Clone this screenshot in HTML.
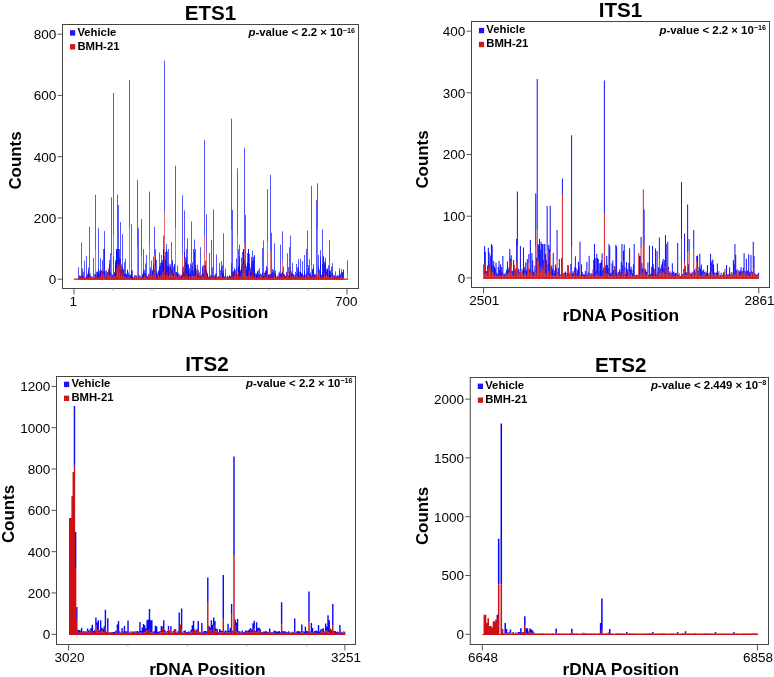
<!DOCTYPE html>
<html><head><meta charset="utf-8"><title>rDNA counts</title>
<style>
html,body{margin:0;padding:0;background:#fff;}
svg{display:block;will-change:transform;font-family:"Liberation Sans",Arial,Helvetica,sans-serif;fill:#000;}
</style></head><body>
<svg width="774" height="677" viewBox="0 0 774 677">
<rect width="774" height="677" fill="#fff"/>
<rect x="62.50" y="24.50" width="296.00" height="264.00" fill="#fff" stroke="#444" stroke-width="1"/>
<path d="M57.50 279.20H62.50" stroke="#555" stroke-width="1"/>
<text x="56.20" y="284.05" text-anchor="end" font-size="13.5">0</text>
<path d="M57.50 217.95H62.50" stroke="#555" stroke-width="1"/>
<text x="56.20" y="222.80" text-anchor="end" font-size="13.5">200</text>
<path d="M57.50 156.70H62.50" stroke="#555" stroke-width="1"/>
<text x="56.20" y="161.55" text-anchor="end" font-size="13.5">400</text>
<path d="M57.50 95.45H62.50" stroke="#555" stroke-width="1"/>
<text x="56.20" y="100.30" text-anchor="end" font-size="13.5">600</text>
<path d="M57.50 34.20H62.50" stroke="#555" stroke-width="1"/>
<text x="56.20" y="39.05" text-anchor="end" font-size="13.5">800</text>
<path d="M113.00 288.50V290.50" stroke="#999" stroke-width="0.8"/>
<path d="M152.00 288.50V290.50" stroke="#999" stroke-width="0.8"/>
<path d="M191.00 288.50V290.50" stroke="#999" stroke-width="0.8"/>
<path d="M230.00 288.50V290.50" stroke="#999" stroke-width="0.8"/>
<path d="M269.00 288.50V290.50" stroke="#999" stroke-width="0.8"/>
<path d="M308.00 288.50V290.50" stroke="#999" stroke-width="0.8"/>
<path d="M74.00 288.50V294.50" stroke="#555" stroke-width="1"/>
<text x="73.30" y="306.00" text-anchor="middle" font-size="13.5">1</text>
<path d="M347.00 288.50V294.50" stroke="#555" stroke-width="1"/>
<text x="346.30" y="306.00" text-anchor="middle" font-size="13.5">700</text>
<text x="210.50" y="19.60" text-anchor="middle" font-size="20.6" font-weight="bold">ETS1</text>
<text x="210.00" y="318.30" text-anchor="middle" font-size="17.3" font-weight="bold">rDNA Position</text>
<text transform="translate(21.00 160.50) rotate(-90)" text-anchor="middle" font-size="16.9" font-weight="bold">Counts</text>
<g stroke="#0000ff" stroke-width="1.00" fill="none" stroke-opacity="0.66">
<path d="M79.50 278.2V275.3M80.50 278.1V275.9M81.50 276.8V274.6M83.50 278.1V271.7M84.50 278.7V278.2M86.50 278.2V278.0M87.50 278.3V275.2M88.50 277.6V275.1M89.50 278.3V226.9M90.50 278.2V277.0M91.50 278.6V277.9M93.50 278.6V278.0M94.50 278.3V277.5M95.50 277.6V273.7M96.50 276.4V275.6M97.50 278.0V272.5M99.50 277.7V275.2M100.50 278.1V270.2M101.50 275.6V270.9M102.50 274.6V272.5M103.50 273.4V271.4M104.50 277.7V249.0M106.50 278.5V277.2M107.50 274.2V272.1M109.50 276.9V264.1M110.50 276.9V253.2M111.50 278.4V277.1M113.50 278.2V256.5M114.50 275.7V273.0M115.50 277.4V262.4M116.50 268.2V249.0M117.50 264.0V249.0M118.50 264.0V260.1M120.50 276.9V266.6M121.50 273.7V270.0M122.50 277.2V234.2M123.50 278.2V268.9M124.50 276.4V274.6M125.50 277.6V258.8M127.50 273.4V269.4M128.50 277.1V275.0M129.50 278.7V276.9M130.50 278.6V275.2M131.50 278.3V224.0M132.50 278.3V277.4M134.50 276.2V275.3M135.50 278.4V277.4M136.50 276.4V275.7M137.50 247.2V180.0M140.50 277.8V277.1M141.50 278.6V277.6M142.50 278.4V275.8M143.50 278.5V270.2M144.50 276.9V273.2M145.50 277.2V273.3M147.50 278.0V276.0M149.50 247.2V191.6M150.50 274.3V272.8M151.50 276.5V273.9M152.50 275.4V271.2M154.50 256.0V226.9M155.50 267.2V258.4M156.50 278.0V271.3M157.50 276.8V276.0M158.50 274.4V270.2M159.50 277.4V272.6M161.50 277.9V273.6M162.50 275.1V262.4M163.50 275.3V249.0M164.50 212.7V60.6M165.50 276.6V251.9M166.50 271.9V249.0M168.50 277.5V267.8M169.50 276.6V266.8M170.50 277.0V268.9M171.50 275.2V269.7M172.50 272.8V262.2M173.50 277.0V266.8M175.50 274.0V271.8M176.50 275.1V272.0M177.50 277.4V274.2M178.50 278.6V272.8M179.50 277.8V274.3M181.50 278.4V276.2M182.50 278.3V267.8M183.50 277.1V266.4M184.50 258.8V210.4M185.50 277.3V257.4M186.50 273.4V249.0M188.50 276.2V265.3M189.50 276.0V268.2M190.50 278.3V273.3M191.50 262.7V221.4M192.50 276.2V262.3M193.50 265.3V249.0M195.50 277.2V249.0M197.50 278.4V275.0M198.50 277.2V269.9M199.50 277.1V272.4M200.50 278.4V275.2M202.50 276.3V267.3M203.50 278.2V274.3M204.50 277.8V264.8M205.50 273.5V265.7M206.50 276.3V269.2M207.50 277.2V273.8M209.50 278.4V253.0M210.50 278.7V276.3M211.50 277.0V239.8M212.50 277.5V267.3M213.50 278.0V276.0M215.50 278.5V275.4M216.50 275.0V273.4M218.50 277.3V276.6M219.50 277.8V262.7M220.50 276.4V270.1M222.50 276.3V273.0M223.50 277.9V271.2M224.50 278.4V276.5M225.50 278.5V268.5M226.50 278.6V277.2M227.50 278.3V276.0M229.50 278.1V276.4M230.50 278.1V276.2M231.50 276.7V263.0M232.50 272.8V210.0M233.50 277.8V270.8M234.50 274.2V267.7M236.50 276.4V272.8M237.50 235.6V168.3M238.50 272.3V266.8M239.50 276.6V244.7M240.50 277.4V271.8M241.50 275.9V257.5M243.50 274.2V250.1M244.50 274.5V259.5M245.50 267.8V263.4M246.50 277.5V266.2M247.50 276.5V253.0M248.50 277.6V249.0M250.50 278.1V272.2M251.50 277.8V262.6M252.50 276.2V250.9M253.50 277.2V256.9M254.50 278.2V255.0M256.50 278.6V274.5M257.50 277.9V275.3M258.50 276.7V270.3M259.50 278.5V268.2M261.50 276.0V275.1M263.50 277.5V276.0M264.50 277.8V275.8M265.50 276.8V270.9M266.50 274.8V266.0M267.50 278.5V267.9M268.50 278.4V275.1M270.50 278.1V274.4M271.50 278.1V232.7M272.50 277.4V268.9M273.50 277.8V271.5M274.50 277.9V243.3M275.50 278.0V273.5M277.50 277.9V277.6M278.50 278.7V276.2M279.50 278.1V271.6M280.50 277.8V274.1M281.50 275.9V272.8M282.50 261.7V231.3M284.50 275.9V275.1M285.50 278.2V276.2M286.50 278.2V272.6M287.50 274.2V273.9M288.50 273.6V267.1M289.50 277.7V271.9M291.50 277.8V271.3M292.50 276.0V262.8M293.50 278.1V274.0M294.50 278.2V274.9M295.50 278.4V275.7M297.50 278.1V267.4M298.50 277.4V267.1M299.50 277.6V276.2M300.50 276.0V258.6M301.50 277.8V272.9M302.50 278.0V261.1M304.50 277.7V272.7M305.50 276.9V275.1M306.50 275.3V248.8M307.50 275.7V230.7M308.50 275.6V268.0M309.50 278.1V259.2M311.50 278.2V275.3M312.50 277.0V268.8M313.50 274.6V264.1M314.50 277.1V275.1M315.50 277.6V274.2M316.50 277.1V275.0M319.50 275.9V269.5M320.50 277.9V263.1M321.50 277.6V276.3M322.50 278.1V273.9M323.50 277.5V257.2M325.50 275.8V264.4M326.50 274.4V271.8M327.50 277.0V270.8M328.50 276.4V275.2M329.50 277.0V240.0M330.50 277.4V274.6M332.50 276.4V272.6M333.50 277.7V274.9M334.50 277.9V275.3M338.50 277.6V275.5M339.50 278.5V268.1M340.50 277.8V273.8M341.50 274.6V269.3M342.50 277.2V272.5M347.50 274.3V260.2"/>
<path d="M78.50 277.1V267.2M79.50 277.7V276.4M80.50 278.1V276.3M81.50 277.9V275.9M82.50 277.8V276.4M84.50 278.2V260.8M85.50 278.8V277.2M86.50 278.1V255.9M87.50 277.9V273.7M88.50 277.7V270.5M90.50 278.4V276.3M91.50 277.1V276.0M92.50 278.4V277.5M93.50 278.2V277.9M94.50 277.9V274.2M95.50 250.1V194.9M97.50 278.3V271.7M98.50 278.1V227.8M99.50 276.8V271.0M100.50 276.0V270.1M101.50 271.9V270.6M102.50 275.4V269.2M104.50 276.5V231.1M105.50 276.2V271.1M106.50 278.2V275.9M107.50 274.9V273.5M108.50 276.3V270.1M109.50 276.5V259.9M111.50 277.6V273.5M112.50 277.2V274.5M113.50 278.4V277.0M114.50 276.6V272.0M115.50 277.1V260.1M116.50 276.3V251.9M118.50 266.2V205.0M119.50 272.9V249.0M120.50 264.0V222.0M121.50 277.3V264.2M122.50 276.7V270.1M124.50 276.9V262.1M125.50 277.9V275.2M126.50 277.8V273.5M127.50 277.8V270.0M128.50 277.6V272.6M129.50 227.8V80.0M131.50 278.2V270.3M132.50 278.5V270.4M133.50 277.5V277.2M134.50 277.7V276.9M135.50 277.1V275.1M136.50 277.8V277.4M138.50 278.1V277.4M139.50 277.0V275.1M140.50 277.4V275.9M141.50 278.3V277.5M142.50 277.8V273.9M143.50 277.0V273.5M145.50 277.8V263.5M146.50 277.4V255.0M147.50 278.7V277.9M148.50 277.6V276.1M149.50 276.0V274.3M150.50 276.5V270.2M152.50 278.2V269.8M153.50 277.4V264.4M154.50 276.9V271.1M155.50 273.1V249.0M156.50 278.2V273.5M157.50 278.0V272.8M159.50 277.5V252.6M160.50 277.6V265.6M161.50 277.7V261.5M162.50 272.5V260.0M163.50 270.8V235.6M165.50 277.2V272.5M166.50 273.9V266.5M167.50 277.0V251.5M168.50 275.2V265.5M169.50 264.0V263.7M170.50 276.3V264.4M172.50 276.5V259.9M173.50 276.6V273.8M174.50 273.5V264.2M175.50 228.2V165.8M176.50 277.2V272.2M177.50 278.5V265.6M179.50 278.5V277.4M180.50 277.9V276.6M181.50 278.4V276.8M182.50 254.0V195.3M183.50 276.9V272.2M184.50 277.9V251.7M186.50 275.0V264.9M187.50 277.8V238.5M188.50 277.5V264.2M189.50 277.0V273.9M190.50 277.8V263.3M191.50 276.4V269.5M193.50 276.9V270.9M194.50 276.8V239.5M195.50 276.2V264.9M196.50 274.7V270.5M197.50 278.3V264.7M198.50 276.3V275.5M200.50 278.4V276.4M201.50 277.7V276.2M202.50 277.4V273.7M203.50 275.9V265.3M204.50 236.5V139.9M206.50 253.0V214.3M207.50 278.4V272.8M208.50 278.4V276.7M209.50 278.6V277.5M211.50 277.1V276.0M214.50 278.2V276.5M215.50 277.9V273.5M217.50 278.5V276.6M218.50 277.8V277.5M220.50 276.2V275.5M221.50 274.5V267.3M222.50 278.0V265.1M223.50 277.5V233.3M224.50 277.3V276.4M225.50 277.2V275.8M227.50 278.0V276.4M228.50 278.2V276.7M229.50 277.3V275.0M230.50 278.1V276.1M231.50 230.7V118.7M232.50 277.1V273.1M234.50 276.1V273.9M235.50 273.6V273.5M236.50 277.7V268.3M237.50 277.2V274.5M238.50 277.6V266.9M239.50 277.5V256.4M241.50 277.8V268.5M242.50 277.6V263.2M243.50 264.0V249.0M244.50 243.3V147.8M245.50 269.3V266.3M247.50 276.7V262.3M248.50 275.2V249.0M249.50 270.3V263.6M250.50 278.0V267.5M251.50 275.8V256.9M252.50 270.6V268.3M254.50 275.9V269.4M255.50 278.2V275.4M256.50 278.4V273.1M257.50 277.0V270.9M258.50 277.7V274.4M259.50 277.4V274.9M261.50 276.9V276.2M262.50 276.6V248.2M263.50 278.4V276.4M264.50 278.7V272.7M265.50 277.8V271.0M266.50 278.0V268.5M268.50 276.8V274.6M269.50 278.6V276.2M270.50 251.1V174.9M271.50 278.7V273.2M272.50 277.3V275.4M273.50 273.4V272.4M275.50 277.3V275.2M276.50 278.5V277.7M277.50 278.4V275.6M278.50 274.8V273.1M279.50 275.5V274.6M281.50 277.0V275.1M282.50 276.7V272.1M283.50 277.6V266.5M284.50 277.9V274.2M285.50 277.8V275.7M286.50 273.8V271.8M288.50 277.9V275.9M289.50 277.5V247.2M290.50 278.4V235.6M291.50 277.1V275.4M292.50 278.5V273.5M293.50 277.9V276.2M295.50 277.7V276.9M296.50 278.2V264.0M298.50 277.8V270.7M299.50 278.2V271.6M300.50 277.8V272.3M302.50 277.8V274.2M303.50 278.5V276.6M304.50 278.1V255.0M305.50 275.9V274.7M306.50 277.0V276.9M307.50 272.7V271.9M309.50 275.3V274.0M310.50 277.7V272.5M311.50 278.2V276.1M312.50 277.8V270.0M313.50 278.0V270.3M314.50 276.1V275.5M316.50 273.8V273.6M317.50 229.2V183.3M318.50 272.9V266.4M319.50 271.2V271.0M320.50 277.8V250.1M322.50 278.0V263.8M323.50 276.9V274.3M324.50 276.9V264.5M325.50 277.4V262.8M326.50 275.6V268.9M327.50 275.9V268.2M329.50 278.4V272.4M330.50 276.8V272.4M331.50 277.2V267.0M332.50 276.3V263.1M333.50 277.3V276.8M334.50 278.4V275.8M336.50 277.0V275.8M337.50 278.4V275.0M338.50 277.4V276.3M339.50 277.1V276.8M340.50 277.4V275.6M341.50 277.6V271.9M343.50 277.9V269.3"/>
<path d="M78.50 277.8V276.9M79.50 277.9V277.4M81.50 276.3V242.4M82.50 278.0V268.3M83.50 278.4V276.9M84.50 277.9V277.9M85.50 278.7V278.4M86.50 278.6V276.6M88.50 276.9V267.5M89.50 277.5V273.9M90.50 274.2V273.4M91.50 278.7V277.9M92.50 277.9V276.5M93.50 276.8V257.9M95.50 275.8V274.6M96.50 276.7V271.7M97.50 278.1V275.1M98.50 277.3V269.1M99.50 276.8V274.4M100.50 277.2V258.2M102.50 269.6V260.1M103.50 277.1V249.0M106.50 277.1V269.9M107.50 277.1V272.6M109.50 275.2V271.1M110.50 274.7V272.4M111.50 255.0V197.2M112.50 277.9V275.2M113.50 235.6V93.0M115.50 276.9V265.9M116.50 268.7V249.0M117.50 271.2V194.5M118.50 272.7V249.0M119.50 265.2V257.9M120.50 276.5V259.1M122.50 270.2V266.3M123.50 275.2V269.8M124.50 277.3V274.0M125.50 276.3V274.5M126.50 278.3V274.0M127.50 278.1V275.2M129.50 277.7V274.6M130.50 278.5V274.5M131.50 278.2V275.5M132.50 278.6V276.3M133.50 278.7V277.7M134.50 277.7V275.5M136.50 278.0V275.7M137.50 278.6V277.8M138.50 278.6V228.2M139.50 278.7V277.6M140.50 278.4V276.9M141.50 256.0V219.1M143.50 277.7V249.1M144.50 275.5V269.9M145.50 277.8V275.7M146.50 278.1V276.5M147.50 278.6V277.2M148.50 278.4V274.0M150.50 277.9V267.5M151.50 273.9V260.5M152.50 274.7V271.6M153.50 271.9V256.6M154.50 272.6V268.6M156.50 278.0V260.0M157.50 276.7V275.9M158.50 276.1V271.1M159.50 276.4V266.7M160.50 275.4V262.8M161.50 274.5V255.0M163.50 276.9V249.0M164.50 274.4V256.1M165.50 276.1V259.6M166.50 277.4V243.9M167.50 274.4V265.8M168.50 277.1V249.0M170.50 269.7V267.1M171.50 274.4V242.0M172.50 275.3V272.3M173.50 275.5V273.4M174.50 276.2V264.6M175.50 278.1V274.5M177.50 277.2V273.2M179.50 277.7V277.3M180.50 276.9V275.3M181.50 278.5V274.5M182.50 277.4V275.0M184.50 277.1V270.6M185.50 276.5V261.3M186.50 274.6V258.3M187.50 278.0V263.6M188.50 278.4V271.0M190.50 275.2V270.8M191.50 277.3V264.6M192.50 276.3V265.8M193.50 276.8V270.3M194.50 276.9V252.4M195.50 275.4V265.1M197.50 276.8V274.3M199.50 277.3V276.0M200.50 274.7V247.2M201.50 276.8V274.5M202.50 275.7V266.1M204.50 276.9V273.4M205.50 278.3V260.8M206.50 278.0V271.1M207.50 278.0V274.6M208.50 278.4V276.9M209.50 278.7V277.2M211.50 278.4V276.0M212.50 277.8V275.0M213.50 275.9V209.4M214.50 276.3V275.2M215.50 278.2V276.8M216.50 278.0V254.4M218.50 278.0V276.3M219.50 278.4V277.3M220.50 278.1V276.7M221.50 277.4V261.1M222.50 277.4V274.2M223.50 278.1V275.9M225.50 278.6V277.1M226.50 278.5V278.2M227.50 278.7V277.3M228.50 277.3V277.2M229.50 278.3V276.6M231.50 278.2V265.6M232.50 277.5V271.8M233.50 277.8V271.8M234.50 277.8V270.0M235.50 276.7V269.9M236.50 271.1V258.6M238.50 276.1V249.0M239.50 277.7V263.1M240.50 277.8V269.7M241.50 273.2V266.6M242.50 266.8V251.9M243.50 271.5V249.0M245.50 273.4V214.8M246.50 276.3V269.3M247.50 277.7V263.2M248.50 271.2V249.0M249.50 277.0V254.0M250.50 276.2V271.0M252.50 276.9V260.5M253.50 277.6V260.3M254.50 278.0V255.8M255.50 276.6V273.2M256.50 277.6V275.2M257.50 277.9V271.5M259.50 277.8V275.4M260.50 276.4V273.3M261.50 277.2V274.2M262.50 278.6V272.4M263.50 278.2V240.4M266.50 277.6V273.7M267.50 242.4V189.1M268.50 278.3V274.7M269.50 278.1V274.1M270.50 278.6V274.0M272.50 277.0V272.4M273.50 272.8V269.8M274.50 275.5V273.2M275.50 278.5V270.6M277.50 277.8V277.2M279.50 277.0V274.6M280.50 277.6V244.7M281.50 277.8V273.8M282.50 277.8V271.4M283.50 276.6V274.0M284.50 278.3V276.2M286.50 276.5V275.5M287.50 277.5V253.2M288.50 278.3V275.8M289.50 278.2V276.8M291.50 277.3V273.2M294.50 277.4V277.3M295.50 276.5V272.0M296.50 275.1V274.0M297.50 277.9V274.0M298.50 276.6V259.2M300.50 277.3V271.9M301.50 277.9V273.8M302.50 275.6V274.6M303.50 276.9V274.9M304.50 277.5V270.3M306.50 278.3V273.5M307.50 278.4V273.3M308.50 275.9V265.0M309.50 277.9V274.8M310.50 277.8V274.5M311.50 265.6V185.8M313.50 277.3V268.1M314.50 278.3V274.3M315.50 276.0V274.9M316.50 275.4V200.1M317.50 276.7V275.3M318.50 275.1V254.8M320.50 277.4V256.6M321.50 278.7V274.6M322.50 275.9V229.2M323.50 277.0V255.9M324.50 273.5V261.3M325.50 276.9V257.9M327.50 278.4V269.3M328.50 278.0V265.2M329.50 277.2V270.8M330.50 278.2V270.4M332.50 278.3V276.8M334.50 278.2V277.4M335.50 278.0V271.3M336.50 277.0V276.6M337.50 278.6V276.9M338.50 277.7V277.3M339.50 278.0V270.7M341.50 275.1V274.4M342.50 277.9V272.2M343.50 277.8V269.9"/>
</g><g stroke="#cc1015" stroke-width="1.00" fill="none" stroke-opacity="0.60">
<path d="M79.50 279.5V278.2M80.50 279.5V278.1M81.50 279.5V276.8M82.50 279.5V274.7M83.50 279.5V278.1M84.50 279.5V278.7M86.50 279.5V278.2M87.50 279.5V278.3M88.50 279.5V277.6M89.50 279.5V278.3M90.50 279.5V278.2M91.50 279.5V278.6M93.50 279.5V278.6M94.50 279.5V278.3M95.50 279.5V277.6M96.50 279.5V276.4M97.50 279.5V278.0M99.50 279.5V277.7M100.50 279.5V278.1M101.50 279.5V275.6M102.50 279.5V274.6M103.50 279.5V273.4M104.50 279.5V277.7M106.50 279.5V278.5M107.50 279.5V274.2M108.50 279.5V268.0M109.50 279.5V276.9M110.50 279.5V276.9M111.50 279.5V278.4M113.50 279.5V278.2M114.50 279.5V275.7M115.50 279.5V277.4M116.50 279.5V268.2M117.50 279.5V264.0M118.50 279.5V264.0M120.50 279.5V276.9M121.50 279.5V273.7M122.50 279.5V277.2M123.50 279.5V278.2M124.50 279.5V276.4M125.50 279.5V277.6M127.50 279.5V273.4M128.50 279.5V277.1M129.50 279.5V278.7M130.50 279.5V278.6M131.50 279.5V278.3M132.50 279.5V278.3M134.50 279.5V276.2M135.50 279.5V278.4M136.50 279.5V276.4M137.50 279.5V247.2M138.50 279.5V274.2M140.50 279.5V277.8M141.50 279.5V278.6M142.50 279.5V278.4M143.50 279.5V278.5M144.50 279.5V276.9M145.50 279.5V277.2M147.50 279.5V278.0M148.50 279.5V276.1M149.50 279.5V247.2M150.50 279.5V274.3M151.50 279.5V276.5M152.50 279.5V275.4M154.50 279.5V256.0M155.50 279.5V267.2M156.50 279.5V278.0M157.50 279.5V276.8M158.50 279.5V274.4M159.50 279.5V277.4M161.50 279.5V277.9M162.50 279.5V275.1M163.50 279.5V275.3M164.50 279.5V212.7M165.50 279.5V276.6M166.50 279.5V271.9M168.50 279.5V277.5M169.50 279.5V276.6M170.50 279.5V277.0M171.50 279.5V275.2M172.50 279.5V272.8M173.50 279.5V277.0M175.50 279.5V274.0M176.50 279.5V275.1M177.50 279.5V277.4M178.50 279.5V278.6M179.50 279.5V277.8M181.50 279.5V278.4M182.50 279.5V278.3M183.50 279.5V277.1M184.50 279.5V258.8M185.50 279.5V277.3M186.50 279.5V273.4M188.50 279.5V276.2M189.50 279.5V276.0M190.50 279.5V278.3M191.50 279.5V262.7M192.50 279.5V276.2M193.50 279.5V265.3M195.50 279.5V277.2M196.50 279.5V268.4M197.50 279.5V278.4M198.50 279.5V277.2M199.50 279.5V277.1M200.50 279.5V278.4M202.50 279.5V276.3M203.50 279.5V278.2M204.50 279.5V277.8M205.50 279.5V273.5M206.50 279.5V276.3M207.50 279.5V277.2M209.50 279.5V278.4M210.50 279.5V278.7M211.50 279.5V277.0M212.50 279.5V277.5M213.50 279.5V278.0M215.50 279.5V278.5M216.50 279.5V275.0M217.50 279.5V276.8M218.50 279.5V277.3M219.50 279.5V277.8M220.50 279.5V276.4M222.50 279.5V276.3M223.50 279.5V277.9M224.50 279.5V278.4M225.50 279.5V278.5M226.50 279.5V278.6M227.50 279.5V278.3M229.50 279.5V278.1M230.50 279.5V278.1M231.50 279.5V276.7M232.50 279.5V272.8M233.50 279.5V277.8M234.50 279.5V274.2M236.50 279.5V276.4M237.50 279.5V235.6M238.50 279.5V272.3M239.50 279.5V276.6M240.50 279.5V277.4M241.50 279.5V275.9M243.50 279.5V274.2M244.50 279.5V274.5M245.50 279.5V267.8M246.50 279.5V277.5M247.50 279.5V276.5M248.50 279.5V277.6M250.50 279.5V278.1M251.50 279.5V277.8M252.50 279.5V276.2M253.50 279.5V277.2M254.50 279.5V278.2M256.50 279.5V278.6M257.50 279.5V277.9M258.50 279.5V276.7M259.50 279.5V278.5M260.50 279.5V275.6M261.50 279.5V276.0M263.50 279.5V277.5M264.50 279.5V277.8M265.50 279.5V276.8M266.50 279.5V274.8M267.50 279.5V278.5M268.50 279.5V278.4M270.50 279.5V278.1M271.50 279.5V278.1M272.50 279.5V277.4M273.50 279.5V277.8M274.50 279.5V277.9M275.50 279.5V278.0M277.50 279.5V277.9M278.50 279.5V278.7M279.50 279.5V278.1M280.50 279.5V277.8M281.50 279.5V275.9M282.50 279.5V261.7M284.50 279.5V275.9M285.50 279.5V278.2M286.50 279.5V278.2M287.50 279.5V274.2M288.50 279.5V273.6M289.50 279.5V277.7M291.50 279.5V277.8M292.50 279.5V276.0M293.50 279.5V278.1M294.50 279.5V278.2M295.50 279.5V278.4M297.50 279.5V278.1M298.50 279.5V277.4M299.50 279.5V277.6M300.50 279.5V276.0M301.50 279.5V277.8M302.50 279.5V278.0M304.50 279.5V277.7M305.50 279.5V276.9M306.50 279.5V275.3M307.50 279.5V275.7M308.50 279.5V275.6M309.50 279.5V278.1M311.50 279.5V278.2M312.50 279.5V277.0M313.50 279.5V274.6M314.50 279.5V277.1M315.50 279.5V277.6M316.50 279.5V277.1M318.50 279.5V273.1M319.50 279.5V275.9M320.50 279.5V277.9M321.50 279.5V277.6M322.50 279.5V278.1M323.50 279.5V277.5M325.50 279.5V275.8M326.50 279.5V274.4M327.50 279.5V277.0M328.50 279.5V276.4M329.50 279.5V277.0M330.50 279.5V277.4M332.50 279.5V276.4M333.50 279.5V277.7M334.50 279.5V277.9M335.50 279.5V276.6M336.50 279.5V276.3M338.50 279.5V277.6M339.50 279.5V278.5M340.50 279.5V277.8M341.50 279.5V274.6M342.50 279.5V277.2M347.50 279.5V274.3"/>
<path d="M78.50 279.5V277.1M79.50 279.5V277.7M80.50 279.5V278.1M81.50 279.5V277.9M82.50 279.5V277.8M84.50 279.5V278.2M85.50 279.5V278.8M86.50 279.5V278.1M87.50 279.5V277.9M88.50 279.5V277.7M90.50 279.5V278.4M91.50 279.5V277.1M92.50 279.5V278.4M93.50 279.5V278.2M94.50 279.5V277.9M95.50 279.5V250.1M97.50 279.5V278.3M98.50 279.5V278.1M99.50 279.5V276.8M100.50 279.5V276.0M101.50 279.5V271.9M102.50 279.5V275.4M104.50 279.5V276.5M105.50 279.5V276.2M106.50 279.5V278.2M107.50 279.5V274.9M108.50 279.5V276.3M109.50 279.5V276.5M111.50 279.5V277.6M112.50 279.5V277.2M113.50 279.5V278.4M114.50 279.5V276.6M115.50 279.5V277.1M116.50 279.5V276.3M118.50 279.5V266.2M119.50 279.5V272.9M120.50 279.5V264.0M121.50 279.5V277.3M122.50 279.5V276.7M124.50 279.5V276.9M125.50 279.5V277.9M126.50 279.5V277.8M127.50 279.5V277.8M128.50 279.5V277.6M129.50 279.5V227.8M131.50 279.5V278.2M132.50 279.5V278.5M133.50 279.5V277.5M134.50 279.5V277.7M135.50 279.5V277.1M136.50 279.5V277.8M138.50 279.5V278.1M139.50 279.5V277.0M140.50 279.5V277.4M141.50 279.5V278.3M142.50 279.5V277.8M143.50 279.5V277.0M145.50 279.5V277.8M146.50 279.5V277.4M147.50 279.5V278.7M148.50 279.5V277.6M149.50 279.5V276.0M150.50 279.5V276.5M152.50 279.5V278.2M153.50 279.5V277.4M154.50 279.5V276.9M155.50 279.5V273.1M156.50 279.5V278.2M157.50 279.5V278.0M159.50 279.5V277.5M160.50 279.5V277.6M161.50 279.5V277.7M162.50 279.5V272.5M163.50 279.5V270.8M165.50 279.5V277.2M166.50 279.5V273.9M167.50 279.5V277.0M168.50 279.5V275.2M169.50 279.5V264.0M170.50 279.5V276.3M172.50 279.5V276.5M173.50 279.5V276.6M174.50 279.5V273.5M175.50 279.5V228.2M176.50 279.5V277.2M177.50 279.5V278.5M179.50 279.5V278.5M180.50 279.5V277.9M181.50 279.5V278.4M182.50 279.5V254.0M183.50 279.5V276.9M184.50 279.5V277.9M186.50 279.5V275.0M187.50 279.5V277.8M188.50 279.5V277.5M189.50 279.5V277.0M190.50 279.5V277.8M191.50 279.5V276.4M193.50 279.5V276.9M194.50 279.5V276.8M195.50 279.5V276.2M196.50 279.5V274.7M197.50 279.5V278.3M198.50 279.5V276.3M200.50 279.5V278.4M201.50 279.5V277.7M202.50 279.5V277.4M203.50 279.5V275.9M204.50 279.5V236.5M206.50 279.5V253.0M207.50 279.5V278.4M208.50 279.5V278.4M209.50 279.5V278.6M210.50 279.5V274.6M211.50 279.5V277.1M213.50 279.5V275.8M214.50 279.5V278.2M215.50 279.5V277.9M216.50 279.5V275.7M217.50 279.5V278.5M218.50 279.5V277.8M220.50 279.5V276.2M221.50 279.5V274.5M222.50 279.5V278.0M223.50 279.5V277.5M224.50 279.5V277.3M225.50 279.5V277.2M227.50 279.5V278.0M228.50 279.5V278.2M229.50 279.5V277.3M230.50 279.5V278.1M231.50 279.5V230.7M232.50 279.5V277.1M234.50 279.5V276.1M235.50 279.5V273.6M236.50 279.5V277.7M237.50 279.5V277.2M238.50 279.5V277.6M239.50 279.5V277.5M241.50 279.5V277.8M242.50 279.5V277.6M243.50 279.5V264.0M244.50 279.5V243.3M245.50 279.5V269.3M247.50 279.5V276.7M248.50 279.5V275.2M249.50 279.5V270.3M250.50 279.5V278.0M251.50 279.5V275.8M252.50 279.5V270.6M254.50 279.5V275.9M255.50 279.5V278.2M256.50 279.5V278.4M257.50 279.5V277.0M258.50 279.5V277.7M259.50 279.5V277.4M261.50 279.5V276.9M262.50 279.5V276.6M263.50 279.5V278.4M264.50 279.5V278.7M265.50 279.5V277.8M266.50 279.5V278.0M268.50 279.5V276.8M269.50 279.5V278.6M270.50 279.5V251.1M271.50 279.5V278.7M272.50 279.5V277.3M273.50 279.5V273.4M275.50 279.5V277.3M276.50 279.5V278.5M277.50 279.5V278.4M278.50 279.5V274.8M279.50 279.5V275.5M281.50 279.5V277.0M282.50 279.5V276.7M283.50 279.5V277.6M284.50 279.5V277.9M285.50 279.5V277.8M286.50 279.5V273.8M288.50 279.5V277.9M289.50 279.5V277.5M290.50 279.5V278.4M291.50 279.5V277.1M292.50 279.5V278.5M293.50 279.5V277.9M295.50 279.5V277.7M296.50 279.5V278.2M297.50 279.5V268.5M298.50 279.5V277.8M299.50 279.5V278.2M300.50 279.5V277.8M302.50 279.5V277.8M303.50 279.5V278.5M304.50 279.5V278.1M305.50 279.5V275.9M306.50 279.5V277.0M307.50 279.5V272.7M309.50 279.5V275.3M310.50 279.5V277.7M311.50 279.5V278.2M312.50 279.5V277.8M313.50 279.5V278.0M314.50 279.5V276.1M316.50 279.5V273.8M317.50 279.5V229.2M318.50 279.5V272.9M319.50 279.5V271.2M320.50 279.5V277.8M322.50 279.5V278.0M323.50 279.5V276.9M324.50 279.5V276.9M325.50 279.5V277.4M326.50 279.5V275.6M327.50 279.5V275.9M329.50 279.5V278.4M330.50 279.5V276.8M331.50 279.5V277.2M332.50 279.5V276.3M333.50 279.5V277.3M334.50 279.5V278.4M336.50 279.5V277.0M337.50 279.5V278.4M338.50 279.5V277.4M339.50 279.5V277.1M340.50 279.5V277.4M341.50 279.5V277.6M343.50 279.5V277.9"/>
<path d="M78.50 279.5V277.8M79.50 279.5V277.9M81.50 279.5V276.3M82.50 279.5V278.0M83.50 279.5V278.4M84.50 279.5V277.9M85.50 279.5V278.7M86.50 279.5V278.6M88.50 279.5V276.9M89.50 279.5V277.5M90.50 279.5V274.2M91.50 279.5V278.7M92.50 279.5V277.9M93.50 279.5V276.8M95.50 279.5V275.8M96.50 279.5V276.7M97.50 279.5V278.1M98.50 279.5V277.3M99.50 279.5V276.8M100.50 279.5V277.2M102.50 279.5V269.6M103.50 279.5V277.1M104.50 279.5V276.7M105.50 279.5V273.7M106.50 279.5V277.1M107.50 279.5V277.1M109.50 279.5V275.2M110.50 279.5V274.7M111.50 279.5V255.0M112.50 279.5V277.9M113.50 279.5V235.6M115.50 279.5V276.9M116.50 279.5V268.7M117.50 279.5V271.2M118.50 279.5V272.7M119.50 279.5V265.2M120.50 279.5V276.5M122.50 279.5V270.2M123.50 279.5V275.2M124.50 279.5V277.3M125.50 279.5V276.3M126.50 279.5V278.3M127.50 279.5V278.1M129.50 279.5V277.7M130.50 279.5V278.5M131.50 279.5V278.2M132.50 279.5V278.6M133.50 279.5V278.7M134.50 279.5V277.7M136.50 279.5V278.0M137.50 279.5V278.6M138.50 279.5V278.6M139.50 279.5V278.7M140.50 279.5V278.4M141.50 279.5V256.0M143.50 279.5V277.7M144.50 279.5V275.5M145.50 279.5V277.8M146.50 279.5V278.1M147.50 279.5V278.6M148.50 279.5V278.4M150.50 279.5V277.9M151.50 279.5V273.9M152.50 279.5V274.7M153.50 279.5V271.9M154.50 279.5V272.6M156.50 279.5V278.0M157.50 279.5V276.7M158.50 279.5V276.1M159.50 279.5V276.4M160.50 279.5V275.4M161.50 279.5V274.5M163.50 279.5V276.9M164.50 279.5V274.4M165.50 279.5V276.1M166.50 279.5V277.4M167.50 279.5V274.4M168.50 279.5V277.1M170.50 279.5V269.7M171.50 279.5V274.4M172.50 279.5V275.3M173.50 279.5V275.5M174.50 279.5V276.2M175.50 279.5V278.1M177.50 279.5V277.2M178.50 279.5V274.7M179.50 279.5V277.7M180.50 279.5V276.9M181.50 279.5V278.5M182.50 279.5V277.4M184.50 279.5V277.1M185.50 279.5V276.5M186.50 279.5V274.6M187.50 279.5V278.0M188.50 279.5V278.4M190.50 279.5V275.2M191.50 279.5V277.3M192.50 279.5V276.3M193.50 279.5V276.8M194.50 279.5V276.9M195.50 279.5V275.4M197.50 279.5V276.8M198.50 279.5V272.5M199.50 279.5V277.3M200.50 279.5V274.7M201.50 279.5V276.8M202.50 279.5V275.7M204.50 279.5V276.9M205.50 279.5V278.3M206.50 279.5V278.0M207.50 279.5V278.0M208.50 279.5V278.4M209.50 279.5V278.7M211.50 279.5V278.4M212.50 279.5V277.8M213.50 279.5V275.9M214.50 279.5V276.3M215.50 279.5V278.2M216.50 279.5V278.0M218.50 279.5V278.0M219.50 279.5V278.4M220.50 279.5V278.1M221.50 279.5V277.4M222.50 279.5V277.4M223.50 279.5V278.1M225.50 279.5V278.6M226.50 279.5V278.5M227.50 279.5V278.7M228.50 279.5V277.3M229.50 279.5V278.3M231.50 279.5V278.2M232.50 279.5V277.5M233.50 279.5V277.8M234.50 279.5V277.8M235.50 279.5V276.7M236.50 279.5V271.1M238.50 279.5V276.1M239.50 279.5V277.7M240.50 279.5V277.8M241.50 279.5V273.2M242.50 279.5V266.8M243.50 279.5V271.5M245.50 279.5V273.4M246.50 279.5V276.3M247.50 279.5V277.7M248.50 279.5V271.2M249.50 279.5V277.0M250.50 279.5V276.2M252.50 279.5V276.9M253.50 279.5V277.6M254.50 279.5V278.0M255.50 279.5V276.6M256.50 279.5V277.6M257.50 279.5V277.9M259.50 279.5V277.8M260.50 279.5V276.4M261.50 279.5V277.2M262.50 279.5V278.6M263.50 279.5V278.2M264.50 279.5V272.9M266.50 279.5V277.6M267.50 279.5V242.4M268.50 279.5V278.3M269.50 279.5V278.1M270.50 279.5V278.6M272.50 279.5V277.0M273.50 279.5V272.8M274.50 279.5V275.5M275.50 279.5V278.5M276.50 279.5V276.2M277.50 279.5V277.8M279.50 279.5V277.0M280.50 279.5V277.6M281.50 279.5V277.8M282.50 279.5V277.8M283.50 279.5V276.6M284.50 279.5V278.3M286.50 279.5V276.5M287.50 279.5V277.5M288.50 279.5V278.3M289.50 279.5V278.2M290.50 279.5V267.2M291.50 279.5V277.3M293.50 279.5V274.0M294.50 279.5V277.4M295.50 279.5V276.5M296.50 279.5V275.1M297.50 279.5V277.9M298.50 279.5V276.6M300.50 279.5V277.3M301.50 279.5V277.9M302.50 279.5V275.6M303.50 279.5V276.9M304.50 279.5V277.5M306.50 279.5V278.3M307.50 279.5V278.4M308.50 279.5V275.9M309.50 279.5V277.9M310.50 279.5V277.8M311.50 279.5V265.6M313.50 279.5V277.3M314.50 279.5V278.3M315.50 279.5V276.0M316.50 279.5V275.4M317.50 279.5V276.7M318.50 279.5V275.1M320.50 279.5V277.4M321.50 279.5V278.7M322.50 279.5V275.9M323.50 279.5V277.0M324.50 279.5V273.5M325.50 279.5V276.9M327.50 279.5V278.4M328.50 279.5V278.0M329.50 279.5V277.2M330.50 279.5V278.2M331.50 279.5V266.4M332.50 279.5V278.3M334.50 279.5V278.2M335.50 279.5V278.0M336.50 279.5V277.0M337.50 279.5V278.6M338.50 279.5V277.7M339.50 279.5V278.0M341.50 279.5V275.1M342.50 279.5V277.9M343.50 279.5V277.8"/>
</g>
<path d="M73.90 279.20H347.70" stroke="#cc1015" stroke-width="1.2"/>
<rect x="70.00" y="30.20" width="5.2" height="5.4" fill="#2010ff"/>
<text x="77.40" y="35.70" font-size="11.3" font-weight="bold">Vehicle</text>
<rect x="70.00" y="44.10" width="5.2" height="5.4" fill="#cc1a1a"/>
<text x="77.40" y="49.60" font-size="11.3" font-weight="bold">BMH-21</text>
<text x="355.00" y="36.30" text-anchor="end" font-size="11.4" font-weight="bold"><tspan font-style="italic">p</tspan>-value &lt; 2.2 × 10<tspan font-size="7.2" dy="-3.8">−16</tspan></text>
<rect x="471.50" y="21.50" width="298.00" height="266.00" fill="#fff" stroke="#444" stroke-width="1"/>
<path d="M466.50 277.90H471.50" stroke="#555" stroke-width="1"/>
<text x="465.20" y="282.75" text-anchor="end" font-size="13.5">0</text>
<path d="M466.50 216.20H471.50" stroke="#555" stroke-width="1"/>
<text x="465.20" y="221.05" text-anchor="end" font-size="13.5">100</text>
<path d="M466.50 154.50H471.50" stroke="#555" stroke-width="1"/>
<text x="465.20" y="159.35" text-anchor="end" font-size="13.5">200</text>
<path d="M466.50 92.80H471.50" stroke="#555" stroke-width="1"/>
<text x="465.20" y="97.65" text-anchor="end" font-size="13.5">300</text>
<path d="M466.50 31.10H471.50" stroke="#555" stroke-width="1"/>
<text x="465.20" y="35.95" text-anchor="end" font-size="13.5">400</text>
<path d="M483.60 287.50V293.50" stroke="#555" stroke-width="1"/>
<text x="484.20" y="305.00" text-anchor="middle" font-size="13.5">2501</text>
<path d="M758.80 287.50V293.50" stroke="#555" stroke-width="1"/>
<text x="759.40" y="305.00" text-anchor="middle" font-size="13.5">2861</text>
<text x="620.50" y="16.90" text-anchor="middle" font-size="20.6" font-weight="bold">ITS1</text>
<text x="620.80" y="320.50" text-anchor="middle" font-size="17.3" font-weight="bold">rDNA Position</text>
<text transform="translate(428.30 159.50) rotate(-90)" text-anchor="middle" font-size="16.9" font-weight="bold">Counts</text>
<g stroke="#0000ff" stroke-width="1.05" fill="none" stroke-opacity="0.90">
<path d="M483.80 273.9V264.3M485.33 274.4V252.1M486.85 273.4V271.2M488.38 267.6V247.8M491.43 275.5V244.1M492.96 272.0V265.1M494.49 275.9V266.8M496.01 276.4V262.8M497.54 275.5V274.3M499.07 275.9V260.7M500.59 276.4V264.3M502.12 276.1V271.9M503.65 275.4V274.1M505.17 276.1V275.0M506.70 276.5V269.6M508.23 273.7V269.4M509.75 274.6V249.1M511.28 266.7V255.2M512.81 275.7V270.8M515.86 275.9V270.2M517.39 246.1V191.4M518.91 274.6V269.7M520.44 271.8V246.1M521.97 269.5V268.8M523.49 276.3V247.5M525.02 275.0V269.6M526.55 276.1V270.4M529.60 275.5V268.9M531.13 272.7V271.2M532.65 274.7V260.3M534.18 276.0V270.3M535.71 246.1V193.6M537.23 229.1V79.1M538.76 260.9V244.9M540.29 271.5V249.8M541.81 266.5V243.9M543.34 270.0V260.1M544.87 273.1V243.9M546.39 274.9V259.9M547.92 272.1V264.3M549.45 274.1V248.9M550.97 274.8V267.0M552.50 276.4V269.1M554.03 276.5V273.1M555.55 276.3V264.6M557.08 260.1V230.1M558.61 274.9V268.3M560.13 276.5V275.5M561.66 276.5V258.1M563.19 276.1V273.8M564.71 273.9V272.4M566.24 276.5V275.2M567.77 276.5V265.0M569.29 276.7V273.8M570.82 273.6V263.9M572.35 276.5V273.3M573.87 276.5V272.8M575.40 275.9V256.2M576.93 276.2V273.5M578.45 275.6V261.7M579.98 268.1V241.7M581.51 276.3V264.3M583.03 276.4V275.0M584.56 276.1V275.1M586.09 276.2V274.3M587.61 275.2V274.9M589.14 275.6V255.8M592.19 276.5V273.8M593.72 276.1V259.7M595.25 276.5V258.1M596.77 274.8V253.8M598.30 276.1V258.9M599.83 275.8V263.2M601.35 276.4V260.6M602.88 276.3V270.8M604.41 213.7V80.4M605.93 276.1V264.8M607.46 273.9V265.1M608.99 276.5V243.9M610.51 276.6V273.6M612.04 276.5V263.4M613.57 274.2V269.9M615.09 276.5V268.2M616.62 276.1V246.4M618.15 274.8V272.6M619.67 276.3V269.2M621.20 276.0V262.1M622.73 274.0V265.0M624.25 270.6V244.5M625.78 276.2V274.0M627.31 276.7V269.3M628.83 272.0V263.0M630.36 276.5V269.5M631.89 275.5V269.7M633.41 276.5V264.3M634.94 276.1V275.4M636.47 276.1V275.1M639.52 274.8V255.7M641.05 248.1V237.1M642.57 272.9V268.3M644.10 244.1V209.5M645.63 275.0V269.6M647.15 274.5V271.8M648.68 276.5V275.1M650.21 276.2V274.4M651.73 276.2V266.7M653.26 276.6V264.2M656.31 275.8V274.6M657.84 275.9V271.8M659.37 258.1V237.5M660.89 273.9V269.4M662.42 273.2V261.6M663.95 274.5V268.1M665.47 266.1V235.1M668.53 269.2V267.1M670.05 276.3V271.3M673.11 276.4V272.0M674.63 275.7V273.8M676.16 276.2V273.2M677.69 276.3V243.1M682.27 276.6V273.9M683.79 275.7V268.7M685.32 275.3V266.0M686.85 275.7V272.2M688.37 274.1V264.3M689.90 273.8V272.4M691.43 276.4V273.6M692.95 274.8V272.6M694.48 275.0V269.9M696.01 273.5V267.9M697.53 268.4V255.6M699.06 271.8V267.0M700.59 275.7V268.5M702.11 276.7V271.2M703.64 273.2V269.6M705.17 275.8V273.3M706.69 276.3V273.0M709.75 274.4V272.5M711.27 271.7V262.7M712.80 273.7V259.4M714.33 276.4V272.6M715.85 275.4V272.8M717.38 276.0V263.5M718.91 271.2V271.1M720.43 276.6V275.3M721.96 276.3V276.0M723.49 276.0V272.4M726.54 275.1V265.1M728.07 275.6V275.5M729.59 276.2V267.3M732.65 273.8V273.8M734.17 275.8V263.8M735.70 274.8V254.7M738.75 272.9V270.6M740.28 275.1V270.0M741.81 273.5V271.3M743.33 275.1V267.8M744.86 276.2V270.9M746.39 276.0V258.7M747.91 276.4V270.3M749.44 275.7V272.7M750.97 272.8V255.1M752.49 273.1V272.3M754.02 276.7V256.1M757.07 276.2V274.7M758.60 275.8V272.7"/>
<path d="M484.56 264.1V245.9M486.09 273.5V270.9M487.62 276.2V265.4M489.14 271.7V252.4M490.67 269.1V255.6M492.20 272.3V245.5M493.72 276.5V261.1M495.25 274.1V268.7M496.78 276.5V272.8M498.30 276.1V267.1M499.83 276.1V270.0M501.36 275.9V267.0M502.88 274.2V256.1M504.41 276.6V273.8M505.94 274.9V272.4M507.46 273.9V261.6M508.99 272.4V267.3M510.52 260.9V258.8M512.04 274.9V270.7M513.57 275.7V260.0M515.10 276.0V268.2M516.62 261.9V239.1M518.15 275.3V268.4M519.68 272.3V272.0M521.20 272.1V271.7M522.73 274.5V270.6M524.26 273.7V266.8M525.78 274.1V262.2M527.31 274.8V259.1M528.84 263.1V254.1M530.36 272.1V240.1M531.89 274.9V253.0M533.42 275.9V272.2M534.94 270.8V265.7M536.47 274.5V257.8M538.00 260.9V243.9M539.52 266.9V239.1M541.05 273.3V241.7M542.58 268.8V243.9M544.10 260.9V243.9M545.63 274.2V254.1M547.16 250.5V206.1M548.68 271.1V244.7M550.21 252.5V205.7M551.74 276.5V265.2M553.26 274.9V253.1M554.79 276.1V270.2M556.32 275.3V267.7M557.84 272.8V272.1M559.37 276.4V259.1M560.90 275.3V274.0M562.42 194.0V178.6M563.95 274.1V273.1M565.48 276.6V271.6M567.00 275.6V273.0M571.58 246.1V135.2M573.11 276.0V271.3M574.64 272.8V267.6M576.16 275.7V268.3M577.69 276.4V269.9M579.22 276.0V267.2M580.74 276.5V275.1M582.27 276.6V272.1M583.80 276.2V274.1M585.32 276.4V271.1M586.85 276.3V262.1M588.38 276.2V272.6M589.90 274.7V273.5M591.43 273.6V272.9M594.48 276.7V243.9M596.01 275.5V270.9M597.54 273.0V258.2M599.06 276.2V271.3M600.59 276.7V263.1M602.12 276.3V253.6M603.64 273.5V267.8M605.17 275.7V266.7M606.70 273.1V256.1M608.22 274.3V267.9M609.75 276.3V246.1M611.28 275.8V272.8M612.80 276.5V260.5M614.33 268.1V266.0M615.86 276.4V244.7M617.38 274.5V273.8M618.91 276.4V271.6M620.44 272.8V271.9M621.96 276.1V243.9M623.49 260.9V250.7M625.02 276.2V267.5M626.54 276.2V262.1M628.07 276.6V272.3M629.60 272.8V248.2M631.12 274.4V266.8M632.65 276.5V273.3M634.18 276.2V244.1M635.70 276.2V275.3M637.23 276.7V275.2M640.28 275.1V255.7M641.81 273.8V263.3M644.86 275.4V268.4M646.39 274.8V271.8M647.92 272.5V262.5M649.44 276.4V245.5M650.97 276.4V273.5M652.50 276.3V246.1M654.02 276.4V268.2M655.55 276.5V248.4M657.08 275.7V251.1M658.60 273.6V267.3M660.13 273.9V267.6M661.66 271.0V264.6M663.18 271.9V258.9M664.71 274.1V260.1M666.24 275.6V243.9M667.76 274.8V241.7M669.29 274.6V272.8M670.82 275.6V273.7M672.34 276.0V263.3M673.87 276.1V271.6M675.40 276.5V273.1M678.45 276.3V274.9M679.98 276.0V275.8M681.50 239.5V182.0M684.56 261.1V233.5M686.08 275.3V272.7M687.61 252.1V204.5M689.14 251.1V239.1M690.66 276.1V273.8M693.72 249.1V230.1M695.24 274.6V272.6M696.77 262.3V256.1M698.30 274.7V270.9M699.82 276.7V253.7M701.35 275.4V264.5M702.88 276.2V270.6M704.40 273.5V272.1M705.93 276.5V271.6M707.46 276.1V265.1M708.98 276.2V275.0M710.51 275.9V253.7M712.04 276.3V260.6M713.56 275.1V264.6M715.09 276.4V275.7M716.62 275.4V272.6M718.14 275.0V272.7M719.67 276.6V275.5M721.20 276.0V272.7M722.72 276.3V274.7M725.78 275.3V274.9M727.30 276.1V274.3M728.83 276.0V274.0M730.36 276.2V275.0M731.88 275.6V272.4M733.41 274.1V260.1M734.94 275.9V243.9M736.46 273.5V270.6M739.52 276.6V272.0M741.04 276.3V267.0M744.10 272.8V253.3M747.15 274.2V270.9M748.68 275.8V254.3M750.20 275.7V271.9M751.73 273.6V271.2M753.26 268.0V241.7M756.31 276.5V274.9M757.84 276.5V274.3"/>
</g><g stroke="#cc1015" stroke-width="1.05" fill="none" stroke-opacity="0.88">
<path d="M483.80 278.4V273.9M485.33 278.4V274.4M486.85 278.4V273.4M488.38 278.4V267.6M489.91 278.4V263.9M491.43 278.4V275.5M492.96 278.4V272.0M494.49 278.4V275.9M496.01 278.4V276.4M497.54 278.4V275.5M499.07 278.4V275.9M500.59 278.4V276.4M502.12 278.4V276.1M503.65 278.4V275.4M505.17 278.4V276.1M506.70 278.4V276.5M508.23 278.4V273.7M509.75 278.4V274.6M511.28 278.4V266.7M512.81 278.4V275.7M514.33 278.4V264.8M515.86 278.4V275.9M517.39 278.4V246.1M518.91 278.4V274.6M520.44 278.4V271.8M521.97 278.4V269.5M523.49 278.4V276.3M525.02 278.4V275.0M526.55 278.4V276.1M528.07 278.4V268.0M529.60 278.4V275.5M531.13 278.4V272.7M532.65 278.4V274.7M534.18 278.4V276.0M535.71 278.4V246.1M537.23 278.4V229.1M538.76 278.4V260.9M540.29 278.4V271.5M541.81 278.4V266.5M543.34 278.4V270.0M544.87 278.4V273.1M546.39 278.4V274.9M547.92 278.4V272.1M549.45 278.4V274.1M550.97 278.4V274.8M552.50 278.4V276.4M554.03 278.4V276.5M555.55 278.4V276.3M557.08 278.4V260.1M558.61 278.4V274.9M560.13 278.4V276.5M561.66 278.4V276.5M563.19 278.4V276.1M564.71 278.4V273.9M566.24 278.4V276.5M567.77 278.4V276.5M569.29 278.4V276.7M570.82 278.4V273.6M572.35 278.4V276.5M573.87 278.4V276.5M575.40 278.4V275.9M576.93 278.4V276.2M578.45 278.4V275.6M579.98 278.4V268.1M581.51 278.4V276.3M583.03 278.4V276.4M584.56 278.4V276.1M586.09 278.4V276.2M587.61 278.4V275.2M589.14 278.4V275.6M590.67 278.4V274.4M592.19 278.4V276.5M593.72 278.4V276.1M595.25 278.4V276.5M596.77 278.4V274.8M598.30 278.4V276.1M599.83 278.4V275.8M601.35 278.4V276.4M602.88 278.4V276.3M604.41 278.4V213.7M605.93 278.4V276.1M607.46 278.4V273.9M608.99 278.4V276.5M610.51 278.4V276.6M612.04 278.4V276.5M613.57 278.4V274.2M615.09 278.4V276.5M616.62 278.4V276.1M618.15 278.4V274.8M619.67 278.4V276.3M621.20 278.4V276.0M622.73 278.4V274.0M624.25 278.4V270.6M625.78 278.4V276.2M627.31 278.4V276.7M628.83 278.4V272.0M630.36 278.4V276.5M631.89 278.4V275.5M633.41 278.4V276.5M634.94 278.4V276.1M636.47 278.4V276.1M637.99 278.4V274.3M639.52 278.4V274.8M641.05 278.4V248.1M642.57 278.4V272.9M644.10 278.4V244.1M645.63 278.4V275.0M647.15 278.4V274.5M648.68 278.4V276.5M650.21 278.4V276.2M651.73 278.4V276.2M653.26 278.4V276.6M654.79 278.4V269.5M656.31 278.4V275.8M657.84 278.4V275.9M659.37 278.4V258.1M660.89 278.4V273.9M662.42 278.4V273.2M663.95 278.4V274.5M665.47 278.4V266.1M667.00 278.4V267.5M668.53 278.4V269.2M670.05 278.4V276.3M671.58 278.4V272.5M673.11 278.4V276.4M674.63 278.4V275.7M676.16 278.4V276.2M677.69 278.4V276.3M679.21 278.4V273.1M680.74 278.4V275.9M682.27 278.4V276.6M683.79 278.4V275.7M685.32 278.4V275.3M686.85 278.4V275.7M688.37 278.4V274.1M689.90 278.4V273.8M691.43 278.4V276.4M692.95 278.4V274.8M694.48 278.4V275.0M696.01 278.4V273.5M697.53 278.4V268.4M699.06 278.4V271.8M700.59 278.4V275.7M702.11 278.4V276.7M703.64 278.4V273.2M705.17 278.4V275.8M706.69 278.4V276.3M708.22 278.4V273.0M709.75 278.4V274.4M711.27 278.4V271.7M712.80 278.4V273.7M714.33 278.4V276.4M715.85 278.4V275.4M717.38 278.4V276.0M718.91 278.4V271.2M720.43 278.4V276.6M721.96 278.4V276.3M723.49 278.4V276.0M725.01 278.4V268.7M726.54 278.4V275.1M728.07 278.4V275.6M729.59 278.4V276.2M731.12 278.4V272.5M732.65 278.4V273.8M734.17 278.4V275.8M735.70 278.4V274.8M737.23 278.4V269.0M738.75 278.4V272.9M740.28 278.4V275.1M741.81 278.4V273.5M743.33 278.4V275.1M744.86 278.4V276.2M746.39 278.4V276.0M747.91 278.4V276.4M749.44 278.4V275.7M750.97 278.4V272.8M752.49 278.4V273.1M754.02 278.4V276.7M755.55 278.4V273.9M757.07 278.4V276.2M758.60 278.4V275.8"/>
<path d="M484.56 278.4V264.1M486.09 278.4V273.5M487.62 278.4V276.2M489.14 278.4V271.7M490.67 278.4V269.1M492.20 278.4V272.3M493.72 278.4V276.5M495.25 278.4V274.1M496.78 278.4V276.5M498.30 278.4V276.1M499.83 278.4V276.1M501.36 278.4V275.9M502.88 278.4V274.2M504.41 278.4V276.6M505.94 278.4V274.9M507.46 278.4V273.9M508.99 278.4V272.4M510.52 278.4V260.9M512.04 278.4V274.9M513.57 278.4V275.7M515.10 278.4V276.0M516.62 278.4V261.9M518.15 278.4V275.3M519.68 278.4V272.3M521.20 278.4V272.1M522.73 278.4V274.5M524.26 278.4V273.7M525.78 278.4V274.1M527.31 278.4V274.8M528.84 278.4V263.1M530.36 278.4V272.1M531.89 278.4V274.9M533.42 278.4V275.9M534.94 278.4V270.8M536.47 278.4V274.5M538.00 278.4V260.9M539.52 278.4V266.9M541.05 278.4V273.3M542.58 278.4V268.8M544.10 278.4V260.9M545.63 278.4V274.2M547.16 278.4V250.5M548.68 278.4V271.1M550.21 278.4V252.5M551.74 278.4V276.5M553.26 278.4V274.9M554.79 278.4V276.1M556.32 278.4V275.3M557.84 278.4V272.8M559.37 278.4V276.4M560.90 278.4V275.3M562.42 278.4V194.0M563.95 278.4V274.1M565.48 278.4V276.6M567.00 278.4V275.6M568.53 278.4V265.5M570.06 278.4V271.7M571.58 278.4V246.1M573.11 278.4V276.0M574.64 278.4V272.8M576.16 278.4V275.7M577.69 278.4V276.4M579.22 278.4V276.0M580.74 278.4V276.5M582.27 278.4V276.6M583.80 278.4V276.2M585.32 278.4V276.4M586.85 278.4V276.3M588.38 278.4V276.2M589.90 278.4V274.7M591.43 278.4V273.6M592.96 278.4V269.5M594.48 278.4V276.7M596.01 278.4V275.5M597.54 278.4V273.0M599.06 278.4V276.2M600.59 278.4V276.7M602.12 278.4V276.3M603.64 278.4V273.5M605.17 278.4V275.7M606.70 278.4V273.1M608.22 278.4V274.3M609.75 278.4V276.3M611.28 278.4V275.8M612.80 278.4V276.5M614.33 278.4V268.1M615.86 278.4V276.4M617.38 278.4V274.5M618.91 278.4V276.4M620.44 278.4V272.8M621.96 278.4V276.1M623.49 278.4V260.9M625.02 278.4V276.2M626.54 278.4V276.2M628.07 278.4V276.6M629.60 278.4V272.8M631.12 278.4V274.4M632.65 278.4V276.5M634.18 278.4V276.2M635.70 278.4V276.2M637.23 278.4V276.7M638.76 278.4V253.1M640.28 278.4V275.1M641.81 278.4V273.8M643.34 278.4V189.4M644.86 278.4V275.4M646.39 278.4V274.8M647.92 278.4V272.5M649.44 278.4V276.4M650.97 278.4V276.4M652.50 278.4V276.3M654.02 278.4V276.4M655.55 278.4V276.5M657.08 278.4V275.7M658.60 278.4V273.6M660.13 278.4V273.9M661.66 278.4V271.0M663.18 278.4V271.9M664.71 278.4V274.1M666.24 278.4V275.6M667.76 278.4V274.8M669.29 278.4V274.6M670.82 278.4V275.6M672.34 278.4V276.0M673.87 278.4V276.1M675.40 278.4V276.5M676.92 278.4V272.5M678.45 278.4V276.3M679.98 278.4V276.0M681.50 278.4V239.5M683.03 278.4V274.6M684.56 278.4V261.1M686.08 278.4V275.3M687.61 278.4V252.1M689.14 278.4V251.1M690.66 278.4V276.1M692.19 278.4V271.7M693.72 278.4V249.1M695.24 278.4V274.6M696.77 278.4V262.3M698.30 278.4V274.7M699.82 278.4V276.7M701.35 278.4V275.4M702.88 278.4V276.2M704.40 278.4V273.5M705.93 278.4V276.5M707.46 278.4V276.1M708.98 278.4V276.2M710.51 278.4V275.9M712.04 278.4V276.3M713.56 278.4V275.1M715.09 278.4V276.4M716.62 278.4V275.4M718.14 278.4V275.0M719.67 278.4V276.6M721.20 278.4V276.0M722.72 278.4V276.3M724.25 278.4V271.7M725.78 278.4V275.3M727.30 278.4V276.1M728.83 278.4V276.0M730.36 278.4V276.2M731.88 278.4V275.6M733.41 278.4V274.1M734.94 278.4V275.9M736.46 278.4V273.5M737.99 278.4V273.6M739.52 278.4V276.6M741.04 278.4V276.3M742.57 278.4V271.2M744.10 278.4V272.8M745.62 278.4V271.7M747.15 278.4V274.2M748.68 278.4V275.8M750.20 278.4V275.7M751.73 278.4V273.6M753.26 278.4V268.0M754.78 278.4V272.8M756.31 278.4V276.5M757.84 278.4V276.5"/>
</g>
<path d="M483.30 278.10H758.90" stroke="#cc1015" stroke-width="1.2"/>
<rect x="478.90" y="27.90" width="5.2" height="5.4" fill="#2010ff"/>
<text x="486.30" y="33.40" font-size="11.3" font-weight="bold">Vehicle</text>
<rect x="478.90" y="41.80" width="5.2" height="5.4" fill="#cc1a1a"/>
<text x="486.30" y="47.30" font-size="11.3" font-weight="bold">BMH-21</text>
<text x="766.00" y="33.70" text-anchor="end" font-size="11.4" font-weight="bold"><tspan font-style="italic">p</tspan>-value &lt; 2.2 × 10<tspan font-size="7.2" dy="-3.8">−16</tspan></text>
<rect x="56.50" y="376.50" width="299.00" height="268.00" fill="#fff" stroke="#444" stroke-width="1"/>
<path d="M51.50 634.30H56.50" stroke="#555" stroke-width="1"/>
<text x="50.20" y="639.15" text-anchor="end" font-size="13.5">0</text>
<path d="M51.50 592.98H56.50" stroke="#555" stroke-width="1"/>
<text x="50.20" y="597.83" text-anchor="end" font-size="13.5">200</text>
<path d="M51.50 551.66H56.50" stroke="#555" stroke-width="1"/>
<text x="50.20" y="556.51" text-anchor="end" font-size="13.5">400</text>
<path d="M51.50 510.34H56.50" stroke="#555" stroke-width="1"/>
<text x="50.20" y="515.19" text-anchor="end" font-size="13.5">600</text>
<path d="M51.50 469.02H56.50" stroke="#555" stroke-width="1"/>
<text x="50.20" y="473.87" text-anchor="end" font-size="13.5">800</text>
<path d="M51.50 427.70H56.50" stroke="#555" stroke-width="1"/>
<text x="50.20" y="432.55" text-anchor="end" font-size="13.5">1000</text>
<path d="M51.50 386.38H56.50" stroke="#555" stroke-width="1"/>
<text x="50.20" y="391.23" text-anchor="end" font-size="13.5">1200</text>
<path d="M127.90 644.50V646.50" stroke="#999" stroke-width="0.8"/>
<path d="M187.20 644.50V646.50" stroke="#999" stroke-width="0.8"/>
<path d="M246.90 644.50V646.50" stroke="#999" stroke-width="0.8"/>
<path d="M306.70 644.50V646.50" stroke="#999" stroke-width="0.8"/>
<path d="M68.60 644.50V650.50" stroke="#555" stroke-width="1"/>
<text x="69.60" y="662.00" text-anchor="middle" font-size="13.5">3020</text>
<path d="M344.90 644.50V650.50" stroke="#555" stroke-width="1"/>
<text x="345.90" y="662.00" text-anchor="middle" font-size="13.5">3251</text>
<text x="207.00" y="371.30" text-anchor="middle" font-size="20.6" font-weight="bold">ITS2</text>
<text x="207.40" y="674.70" text-anchor="middle" font-size="17.3" font-weight="bold">rDNA Position</text>
<text transform="translate(14.30 514.00) rotate(-90)" text-anchor="middle" font-size="16.9" font-weight="bold">Counts</text>
<g stroke="#0000ff" stroke-width="1.41" fill="none" stroke-opacity="0.97">
<path d="M74.46 464.9V405.9M75.65 569.6V532.0M76.84 619.8V607.1M78.03 632.5V629.7M79.22 633.0V630.0M80.41 631.7V630.5M81.60 632.8V627.7M82.80 632.6V631.5M83.99 633.0V631.2M85.18 631.3V631.3M86.37 632.8V631.4M87.56 631.3V628.5M88.75 632.8V630.4M91.13 630.8V628.0M92.32 632.6V624.8M93.51 632.9V630.9M94.70 631.8V630.0M95.89 625.0V617.6M97.08 632.6V622.6M98.27 629.0V620.3M99.46 630.6V629.7M100.65 632.6V620.3M101.84 630.3V627.8M103.03 632.6V629.1M104.22 632.8V626.3M105.41 627.0V609.8M106.60 631.7V631.4M107.80 631.7V618.2M108.99 632.4V632.0M110.18 632.6V632.3M111.37 632.6V632.0M112.56 632.8V631.9M113.75 633.1V631.9M114.94 632.9V631.7M116.13 632.7V630.5M117.32 629.8V624.4M118.51 632.9V621.1M119.70 632.5V631.4M120.89 632.5V632.2M122.08 632.1V628.0M123.27 631.6V631.2M124.46 632.9V626.0M125.65 631.5V631.1M126.84 632.7V631.4M128.03 632.9V620.5M129.22 632.6V632.2M130.41 632.6V631.6M131.60 632.6V631.8M132.80 632.0V631.5M133.99 633.0V631.6M135.18 632.7V631.5M136.37 631.8V631.2M137.56 632.7V631.0M138.75 633.0V631.8M139.94 632.6V622.1M141.13 632.5V631.1M142.32 633.0V627.4M143.51 632.7V624.0M144.70 632.5V625.2M145.89 631.7V628.5M147.08 629.9V620.3M148.27 631.9V619.5M149.46 629.8V609.1M150.65 632.5V620.3M151.84 632.7V620.3M153.03 632.5V631.9M154.22 632.9V631.0M155.41 633.1V625.8M156.60 633.1V626.3M157.80 633.0V631.8M158.99 633.1V631.4M160.18 632.6V631.2M161.37 632.6V625.9M162.56 627.3V626.5M163.75 632.6V620.3M164.94 632.8V630.2M166.13 632.4V631.9M167.32 632.6V631.1M168.51 628.9V625.9M170.89 632.6V626.3M172.08 632.5V632.2M173.27 632.7V630.9M175.65 631.6V629.6M176.84 632.6V632.3M178.03 632.8V631.2M179.22 632.9V612.4M181.60 629.5V608.5M182.80 632.7V632.4M183.99 632.8V631.0M185.18 632.8V630.3M186.37 632.9V632.1M187.56 632.6V632.1M188.75 632.9V631.2M189.94 632.2V632.1M191.13 632.7V629.8M192.32 631.7V625.3M193.51 632.7V620.7M195.89 632.8V631.0M197.08 632.7V628.9M198.27 628.9V621.1M199.46 632.2V631.7M200.65 632.4V632.1M201.84 632.7V623.0M203.03 632.7V632.3M204.22 632.9V631.1M205.41 632.7V631.1M206.60 633.0V631.2M207.80 602.1V577.5M208.99 630.0V625.8M210.18 630.6V627.6M211.37 629.6V620.3M212.56 632.7V624.8M213.75 625.0V617.6M214.94 631.8V621.0M216.13 631.3V628.4M218.51 633.0V632.3M219.70 632.8V628.9M220.89 632.5V630.6M222.08 632.6V631.0M223.27 618.8V575.0M224.46 632.9V631.6M225.65 632.2V630.2M226.84 632.5V631.4M228.03 632.8V623.8M229.22 632.2V630.8M230.41 632.7V627.8M231.60 614.3V604.0M232.80 632.7V630.7M233.99 555.8V456.6M235.18 625.0V619.5M236.37 631.4V622.6M237.56 632.6V619.1M238.75 632.8V631.2M239.94 633.1V631.3M241.13 632.5V632.3M242.32 632.8V630.5M243.51 632.7V632.1M244.70 632.9V631.7M245.89 632.0V630.2M247.08 631.8V631.0M248.27 632.8V630.6M249.46 632.1V629.2M250.65 630.8V627.9M251.84 632.6V629.7M253.03 633.0V623.2M254.22 628.8V620.7M255.41 632.5V630.9M256.60 632.4V622.3M257.80 631.8V628.0M258.99 630.6V627.5M260.18 632.3V628.9M261.37 632.9V631.7M262.56 632.6V632.2M263.75 633.0V631.5M264.94 633.0V631.4M266.13 632.7V631.0M267.32 633.1V631.9M268.51 632.5V631.7M269.70 632.8V628.5M270.89 632.6V632.1M272.08 632.7V632.1M273.27 632.6V631.8M274.46 632.8V630.6M275.65 632.9V631.1M276.84 632.9V631.8M278.03 632.9V631.4M279.22 633.0V631.0M280.41 633.0V632.3M281.60 624.4V602.3M282.80 633.0V631.1M283.99 632.9V631.2M285.18 632.7V631.6M286.37 632.8V631.8M287.56 632.7V631.9M288.75 633.0V631.3M289.94 632.7V632.4M291.13 633.0V632.4M292.32 632.6V631.7M293.51 632.9V632.2M294.70 632.6V618.6M295.89 632.5V631.9M297.08 632.9V631.3M298.27 632.9V631.0M299.46 632.9V631.5M300.65 632.8V631.5M301.84 632.6V624.4M304.22 633.0V631.7M305.41 633.1V626.7M306.60 633.0V630.9M307.80 631.8V630.9M308.99 621.7V591.4M310.18 633.1V631.4M311.37 632.3V623.0M312.56 632.7V627.9M313.75 633.1V631.8M314.94 632.6V631.0M316.13 632.9V630.6M317.32 633.0V631.2M318.51 632.9V625.0M319.70 632.9V631.4M320.89 632.7V629.4M322.08 630.4V628.9M323.27 632.6V628.3M324.46 632.7V631.6M325.65 631.4V623.4M326.84 630.6V626.5M328.03 632.3V615.3M329.22 632.7V620.3M331.60 633.0V629.7M332.80 625.5V604.0M333.99 632.1V631.0M335.18 632.9V631.0M336.37 632.9V632.0M337.56 632.7V631.4M338.75 632.7V632.1M339.94 632.8V625.0M341.13 632.8V631.7M342.32 632.5V632.0M343.51 632.6V631.5M344.70 632.7V631.7"/>
</g><g stroke="#cc1015" stroke-width="1.41" fill="none" stroke-opacity="1.00">
<path d="M69.70 634.8V518.0M70.89 634.8V518.0M72.08 634.8V496.3M73.27 634.8V471.9M74.46 634.8V464.9M75.65 634.8V569.6M76.84 634.8V619.8M78.03 634.8V632.5M79.22 634.8V633.0M80.41 634.8V631.7M81.60 634.8V632.8M82.80 634.8V632.6M83.99 634.8V633.0M85.18 634.8V631.3M86.37 634.8V632.8M87.56 634.8V631.3M88.75 634.8V632.8M89.94 634.8V629.4M91.13 634.8V630.8M92.32 634.8V632.6M93.51 634.8V632.9M94.70 634.8V631.8M95.89 634.8V625.0M97.08 634.8V632.6M98.27 634.8V629.0M99.46 634.8V630.6M100.65 634.8V632.6M101.84 634.8V630.3M103.03 634.8V632.6M104.22 634.8V632.8M105.41 634.8V627.0M106.60 634.8V631.7M107.80 634.8V631.7M108.99 634.8V632.4M110.18 634.8V632.6M111.37 634.8V632.6M112.56 634.8V632.8M113.75 634.8V633.1M114.94 634.8V632.9M116.13 634.8V632.7M117.32 634.8V629.8M118.51 634.8V632.9M119.70 634.8V632.5M120.89 634.8V632.5M122.08 634.8V632.1M123.27 634.8V631.6M124.46 634.8V632.9M125.65 634.8V631.5M126.84 634.8V632.7M128.03 634.8V632.9M129.22 634.8V632.6M130.41 634.8V632.6M131.60 634.8V632.6M132.80 634.8V632.0M133.99 634.8V633.0M135.18 634.8V632.7M136.37 634.8V631.8M137.56 634.8V632.7M138.75 634.8V633.0M139.94 634.8V632.6M141.13 634.8V632.5M142.32 634.8V633.0M143.51 634.8V632.7M144.70 634.8V632.5M145.89 634.8V631.7M147.08 634.8V629.9M148.27 634.8V631.9M149.46 634.8V629.8M150.65 634.8V632.5M151.84 634.8V632.7M153.03 634.8V632.5M154.22 634.8V632.9M155.41 634.8V633.1M156.60 634.8V633.1M157.80 634.8V633.0M158.99 634.8V633.1M160.18 634.8V632.6M161.37 634.8V632.6M162.56 634.8V627.3M163.75 634.8V632.6M164.94 634.8V632.8M166.13 634.8V632.4M167.32 634.8V632.6M168.51 634.8V628.9M169.70 634.8V630.6M170.89 634.8V632.6M172.08 634.8V632.5M173.27 634.8V632.7M174.46 634.8V628.9M175.65 634.8V631.6M176.84 634.8V632.6M178.03 634.8V632.8M179.22 634.8V632.9M180.41 634.8V624.4M181.60 634.8V629.5M182.80 634.8V632.7M183.99 634.8V632.8M185.18 634.8V632.8M186.37 634.8V632.9M187.56 634.8V632.6M188.75 634.8V632.9M189.94 634.8V632.2M191.13 634.8V632.7M192.32 634.8V631.7M193.51 634.8V632.7M194.70 634.8V629.3M195.89 634.8V632.8M197.08 634.8V632.7M198.27 634.8V628.9M199.46 634.8V632.2M200.65 634.8V632.4M201.84 634.8V632.7M203.03 634.8V632.7M204.22 634.8V632.9M205.41 634.8V632.7M206.60 634.8V633.0M207.80 634.8V602.1M208.99 634.8V630.0M210.18 634.8V630.6M211.37 634.8V629.6M212.56 634.8V632.7M213.75 634.8V625.0M214.94 634.8V631.8M216.13 634.8V631.3M217.32 634.8V629.0M218.51 634.8V633.0M219.70 634.8V632.8M220.89 634.8V632.5M222.08 634.8V632.6M223.27 634.8V618.8M224.46 634.8V632.9M225.65 634.8V632.2M226.84 634.8V632.5M228.03 634.8V632.8M229.22 634.8V632.2M230.41 634.8V632.7M231.60 634.8V614.3M232.80 634.8V632.7M233.99 634.8V555.8M235.18 634.8V625.0M236.37 634.8V631.4M237.56 634.8V632.6M238.75 634.8V632.8M239.94 634.8V633.1M241.13 634.8V632.5M242.32 634.8V632.8M243.51 634.8V632.7M244.70 634.8V632.9M245.89 634.8V632.0M247.08 634.8V631.8M248.27 634.8V632.8M249.46 634.8V632.1M250.65 634.8V630.8M251.84 634.8V632.6M253.03 634.8V633.0M254.22 634.8V628.8M255.41 634.8V632.5M256.60 634.8V632.4M257.80 634.8V631.8M258.99 634.8V630.6M260.18 634.8V632.3M261.37 634.8V632.9M262.56 634.8V632.6M263.75 634.8V633.0M264.94 634.8V633.0M266.13 634.8V632.7M267.32 634.8V633.1M268.51 634.8V632.5M269.70 634.8V632.8M270.89 634.8V632.6M272.08 634.8V632.7M273.27 634.8V632.6M274.46 634.8V632.8M275.65 634.8V632.9M276.84 634.8V632.9M278.03 634.8V632.9M279.22 634.8V633.0M280.41 634.8V633.0M281.60 634.8V624.4M282.80 634.8V633.0M283.99 634.8V632.9M285.18 634.8V632.7M286.37 634.8V632.8M287.56 634.8V632.7M288.75 634.8V633.0M289.94 634.8V632.7M291.13 634.8V633.0M292.32 634.8V632.6M293.51 634.8V632.9M294.70 634.8V632.6M295.89 634.8V632.5M297.08 634.8V632.9M298.27 634.8V632.9M299.46 634.8V632.9M300.65 634.8V632.8M301.84 634.8V632.6M303.03 634.8V630.9M304.22 634.8V633.0M305.41 634.8V633.1M306.60 634.8V633.0M307.80 634.8V631.8M308.99 634.8V621.7M310.18 634.8V633.1M311.37 634.8V632.3M312.56 634.8V632.7M313.75 634.8V633.1M314.94 634.8V632.6M316.13 634.8V632.9M317.32 634.8V633.0M318.51 634.8V632.9M319.70 634.8V632.9M320.89 634.8V632.7M322.08 634.8V630.4M323.27 634.8V632.6M324.46 634.8V632.7M325.65 634.8V631.4M326.84 634.8V630.6M328.03 634.8V632.3M329.22 634.8V632.7M330.41 634.8V628.4M331.60 634.8V633.0M332.80 634.8V625.5M333.99 634.8V632.1M335.18 634.8V632.9M336.37 634.8V632.9M337.56 634.8V632.7M338.75 634.8V632.7M339.94 634.8V632.8M341.13 634.8V632.8M342.32 634.8V632.5M343.51 634.8V632.6M344.70 634.8V632.7"/>
</g>
<path d="M69.20 634.50H345.00" stroke="#cc1015" stroke-width="1.2"/>
<rect x="64.00" y="381.70" width="5.2" height="5.4" fill="#2010ff"/>
<text x="71.40" y="387.20" font-size="11.3" font-weight="bold">Vehicle</text>
<rect x="64.00" y="395.60" width="5.2" height="5.4" fill="#cc1a1a"/>
<text x="71.40" y="401.10" font-size="11.3" font-weight="bold">BMH-21</text>
<text x="352.60" y="386.80" text-anchor="end" font-size="11.4" font-weight="bold"><tspan font-style="italic">p</tspan>-value &lt; 2.2 × 10<tspan font-size="7.2" dy="-3.8">−16</tspan></text>
<rect x="470.25" y="377.50" width="298.25" height="267.00" fill="#fff" stroke="#444" stroke-width="1"/>
<path d="M465.25 634.30H470.25" stroke="#555" stroke-width="1"/>
<text x="463.95" y="639.15" text-anchor="end" font-size="13.5">0</text>
<path d="M465.25 575.50H470.25" stroke="#555" stroke-width="1"/>
<text x="463.95" y="580.35" text-anchor="end" font-size="13.5">500</text>
<path d="M465.25 516.70H470.25" stroke="#555" stroke-width="1"/>
<text x="463.95" y="521.55" text-anchor="end" font-size="13.5">1000</text>
<path d="M465.25 457.90H470.25" stroke="#555" stroke-width="1"/>
<text x="463.95" y="462.75" text-anchor="end" font-size="13.5">1500</text>
<path d="M465.25 399.10H470.25" stroke="#555" stroke-width="1"/>
<text x="463.95" y="403.95" text-anchor="end" font-size="13.5">2000</text>
<path d="M482.30 644.50V650.50" stroke="#555" stroke-width="1"/>
<text x="482.90" y="662.00" text-anchor="middle" font-size="13.5">6648</text>
<path d="M757.40 644.50V650.50" stroke="#555" stroke-width="1"/>
<text x="758.00" y="662.00" text-anchor="middle" font-size="13.5">6858</text>
<text x="620.80" y="371.80" text-anchor="middle" font-size="20.6" font-weight="bold">ETS2</text>
<text x="620.80" y="674.70" text-anchor="middle" font-size="17.3" font-weight="bold">rDNA Position</text>
<text transform="translate(428.00 516.00) rotate(-90)" text-anchor="middle" font-size="16.9" font-weight="bold">Counts</text>
<g stroke="#0000ff" stroke-width="1.53" fill="none" stroke-opacity="0.97">
<path d="M497.37 619.3V614.7M498.68 584.3V538.7M501.29 584.3V423.5M503.91 633.7V633.3M505.21 633.6V623.0M506.52 633.6V629.0M507.83 633.3V632.4M509.13 633.4V632.4M510.44 633.2V629.5M511.75 633.5V633.4M514.36 633.5V633.3M515.67 633.5V632.5M516.97 633.2V633.0M518.28 633.3V632.0M519.59 633.0V632.1M520.89 632.9V628.3M524.81 625.0V616.2M526.12 633.7V628.3M527.43 632.9V628.3M528.73 631.7V631.2M530.04 633.5V628.4M531.35 632.0V629.5M532.65 633.6V630.5M533.96 633.5V632.5M535.27 633.5V633.2M536.57 633.6V633.5M537.88 633.6V633.2M540.49 633.7V633.2M541.80 633.7V633.3M543.11 633.6V633.2M544.41 633.7V633.5M545.72 633.6V633.5M548.33 633.6V633.2M549.64 633.7V633.7M552.25 633.5V633.3M553.56 633.7V633.4M554.87 633.7V633.6M556.17 633.6V628.4M557.48 633.7V633.5M558.79 633.5V633.2M560.09 633.6V633.4M561.40 633.7V633.5M562.71 633.7V633.3M564.01 633.5V633.4M565.32 633.6V633.6M566.63 633.6V633.5M569.24 633.5V633.4M570.55 633.7V633.2M571.85 633.5V628.8M573.16 633.4V633.2M574.47 633.7V633.3M575.77 633.7V633.6M577.08 633.7V633.2M578.39 633.7V633.5M579.69 633.7V633.7M581.00 633.6V633.4M582.31 633.6V633.2M583.61 633.6V632.8M584.92 633.6V633.3M586.23 633.6V633.2M587.53 633.7V633.2M588.84 633.6V633.4M590.15 633.7V633.4M591.45 633.7V633.2M592.76 633.6V633.4M594.07 633.7V633.2M596.68 633.6V633.3M599.29 633.6V633.2M600.60 633.6V623.0M601.91 630.0V598.4M603.21 633.6V633.2M604.52 633.7V633.6M605.83 633.5V633.3M607.13 633.7V633.4M608.44 633.5V632.6M609.75 633.7V628.9M611.05 633.5V633.3M613.67 633.7V633.4M616.28 633.7V633.3M617.59 633.5V633.3M618.89 633.7V633.3M621.51 633.6V633.2M622.81 633.5V633.2M624.12 633.6V633.6M625.43 633.7V633.4M626.73 633.7V632.0M628.04 633.7V633.4M629.35 633.6V633.3M630.65 633.6V633.2M631.96 633.5V633.3M633.27 633.5V633.4M634.57 633.6V633.3M635.88 633.7V633.4M637.19 633.5V633.4M639.80 633.7V633.5M641.11 633.7V633.5M645.03 633.5V633.2M646.33 633.7V633.3M647.64 633.6V633.6M648.95 633.7V633.2M650.25 633.5V633.2M651.56 633.6V633.1M652.87 633.5V632.0M654.17 633.5V633.4M655.48 633.6V633.4M658.09 633.5V633.4M660.71 633.6V633.1M663.32 633.6V633.3M664.63 633.7V633.3M665.93 633.6V633.4M667.24 633.5V633.4M668.55 633.6V633.4M669.85 633.6V633.5M671.16 633.6V633.2M672.47 633.6V633.3M673.77 633.6V633.5M675.08 633.7V633.4M676.39 633.5V633.4M677.69 633.6V632.0M679.00 633.7V633.5M680.31 633.7V633.6M681.61 633.7V633.5M682.92 633.5V633.3M684.23 633.5V633.2M685.53 633.6V631.2M686.84 633.7V633.5M688.15 633.6V633.5M689.45 633.7V633.2M690.76 633.6V633.4M692.07 633.5V633.5M693.37 633.5V633.4M694.68 633.7V633.1M695.99 633.6V633.4M697.29 633.5V633.4M698.60 633.5V633.3M699.91 633.7V633.6M701.21 633.7V633.6M702.52 633.6V633.6M703.83 633.7V633.5M705.13 633.7V633.2M706.44 633.7V633.3M707.75 633.7V633.3M709.05 633.7V633.5M710.36 633.6V633.2M711.67 633.5V633.4M714.28 633.6V633.2M715.59 633.5V632.0M716.89 633.7V633.5M718.20 633.6V633.6M719.51 633.5V633.5M720.81 633.5V633.5M722.12 633.5V633.3M723.43 633.7V633.4M726.04 633.6V633.5M727.35 633.6V633.5M728.65 633.6V633.6M732.57 633.6V633.4M733.88 633.6V632.0M735.19 633.7V633.6M737.80 633.5V633.2M739.11 633.7V633.4M740.41 633.7V633.5M741.72 633.7V633.5M743.03 633.5V633.3M745.64 633.6V633.2M746.95 633.7V633.5M748.25 633.6V633.2M750.87 633.6V633.5M752.17 633.5V633.2M753.48 633.5V633.4M754.79 633.5V633.2M756.09 633.7V633.4M757.40 633.6V633.5"/>
</g><g stroke="#cc1015" stroke-width="1.53" fill="none" stroke-opacity="1.00">
<path d="M484.31 634.8V614.7M485.61 634.8V614.7M486.92 634.8V623.1M488.23 634.8V618.3M489.53 634.8V626.0M490.84 634.8V626.0M492.15 634.8V627.5M493.45 634.8V621.3M494.76 634.8V621.3M496.07 634.8V619.3M497.37 634.8V619.3M498.68 634.8V584.3M501.29 634.8V584.3M502.60 634.8V629.0M503.91 634.8V633.7M505.21 634.8V633.6M506.52 634.8V633.6M507.83 634.8V633.3M509.13 634.8V633.4M510.44 634.8V633.2M511.75 634.8V633.5M513.05 634.8V631.9M514.36 634.8V633.5M515.67 634.8V633.5M516.97 634.8V633.2M518.28 634.8V633.3M519.59 634.8V633.0M520.89 634.8V632.9M522.20 634.8V632.2M523.51 634.8V632.0M524.81 634.8V625.0M526.12 634.8V633.7M527.43 634.8V632.9M528.73 634.8V631.7M530.04 634.8V633.5M531.35 634.8V632.0M532.65 634.8V633.6M533.96 634.8V633.5M535.27 634.8V633.5M536.57 634.8V633.6M537.88 634.8V633.6M539.19 634.8V633.5M540.49 634.8V633.7M541.80 634.8V633.7M543.11 634.8V633.6M544.41 634.8V633.7M545.72 634.8V633.6M547.03 634.8V633.5M548.33 634.8V633.6M549.64 634.8V633.7M550.95 634.8V633.5M552.25 634.8V633.5M553.56 634.8V633.7M554.87 634.8V633.7M556.17 634.8V633.6M557.48 634.8V633.7M558.79 634.8V633.5M560.09 634.8V633.6M561.40 634.8V633.7M562.71 634.8V633.7M564.01 634.8V633.5M565.32 634.8V633.6M566.63 634.8V633.6M567.93 634.8V633.5M569.24 634.8V633.5M570.55 634.8V633.7M571.85 634.8V633.5M573.16 634.8V633.4M574.47 634.8V633.7M575.77 634.8V633.7M577.08 634.8V633.7M578.39 634.8V633.7M579.69 634.8V633.7M581.00 634.8V633.6M582.31 634.8V633.6M583.61 634.8V633.6M584.92 634.8V633.6M586.23 634.8V633.6M587.53 634.8V633.7M588.84 634.8V633.6M590.15 634.8V633.7M591.45 634.8V633.7M592.76 634.8V633.6M594.07 634.8V633.7M595.37 634.8V633.5M596.68 634.8V633.6M597.99 634.8V633.5M599.29 634.8V633.6M600.60 634.8V633.6M601.91 634.8V630.0M603.21 634.8V633.6M604.52 634.8V633.7M605.83 634.8V633.5M607.13 634.8V633.7M608.44 634.8V633.5M609.75 634.8V633.7M611.05 634.8V633.5M612.36 634.8V633.5M613.67 634.8V633.7M614.97 634.8V633.7M616.28 634.8V633.7M617.59 634.8V633.5M618.89 634.8V633.7M620.20 634.8V633.6M621.51 634.8V633.6M622.81 634.8V633.5M624.12 634.8V633.6M625.43 634.8V633.7M626.73 634.8V633.7M628.04 634.8V633.7M629.35 634.8V633.6M630.65 634.8V633.6M631.96 634.8V633.5M633.27 634.8V633.5M634.57 634.8V633.6M635.88 634.8V633.7M637.19 634.8V633.5M638.49 634.8V633.5M639.80 634.8V633.7M641.11 634.8V633.7M642.41 634.8V633.5M643.72 634.8V633.6M645.03 634.8V633.5M646.33 634.8V633.7M647.64 634.8V633.6M648.95 634.8V633.7M650.25 634.8V633.5M651.56 634.8V633.6M652.87 634.8V633.5M654.17 634.8V633.5M655.48 634.8V633.6M656.79 634.8V633.6M658.09 634.8V633.5M659.40 634.8V633.5M660.71 634.8V633.6M662.01 634.8V633.6M663.32 634.8V633.6M664.63 634.8V633.7M665.93 634.8V633.6M667.24 634.8V633.5M668.55 634.8V633.6M669.85 634.8V633.6M671.16 634.8V633.6M672.47 634.8V633.6M673.77 634.8V633.6M675.08 634.8V633.7M676.39 634.8V633.5M677.69 634.8V633.6M679.00 634.8V633.7M680.31 634.8V633.7M681.61 634.8V633.7M682.92 634.8V633.5M684.23 634.8V633.5M685.53 634.8V633.6M686.84 634.8V633.7M688.15 634.8V633.6M689.45 634.8V633.7M690.76 634.8V633.6M692.07 634.8V633.5M693.37 634.8V633.5M694.68 634.8V633.7M695.99 634.8V633.6M697.29 634.8V633.5M698.60 634.8V633.5M699.91 634.8V633.7M701.21 634.8V633.7M702.52 634.8V633.6M703.83 634.8V633.7M705.13 634.8V633.7M706.44 634.8V633.7M707.75 634.8V633.7M709.05 634.8V633.7M710.36 634.8V633.6M711.67 634.8V633.5M712.97 634.8V633.5M714.28 634.8V633.6M715.59 634.8V633.5M716.89 634.8V633.7M718.20 634.8V633.6M719.51 634.8V633.5M720.81 634.8V633.5M722.12 634.8V633.5M723.43 634.8V633.7M724.73 634.8V633.6M726.04 634.8V633.6M727.35 634.8V633.6M728.65 634.8V633.6M729.96 634.8V633.5M731.27 634.8V633.6M732.57 634.8V633.6M733.88 634.8V633.6M735.19 634.8V633.7M736.49 634.8V633.5M737.80 634.8V633.5M739.11 634.8V633.7M740.41 634.8V633.7M741.72 634.8V633.7M743.03 634.8V633.5M744.33 634.8V633.6M745.64 634.8V633.6M746.95 634.8V633.7M748.25 634.8V633.6M749.56 634.8V633.5M750.87 634.8V633.6M752.17 634.8V633.5M753.48 634.8V633.5M754.79 634.8V633.5M756.09 634.8V633.7M757.40 634.8V633.6"/>
</g>
<path d="M482.50 634.50H757.70" stroke="#cc1015" stroke-width="1.2"/>
<rect x="477.80" y="383.60" width="5.2" height="5.4" fill="#2010ff"/>
<text x="485.20" y="389.10" font-size="11.3" font-weight="bold">Vehicle</text>
<rect x="477.80" y="397.50" width="5.2" height="5.4" fill="#cc1a1a"/>
<text x="485.20" y="403.00" font-size="11.3" font-weight="bold">BMH-21</text>
<text x="766.20" y="389.20" text-anchor="end" font-size="11.4" font-weight="bold"><tspan font-style="italic">p</tspan>-value &lt; 2.449 × 10<tspan font-size="7.2" dy="-3.8">−8</tspan></text>
</svg>
</body></html>
